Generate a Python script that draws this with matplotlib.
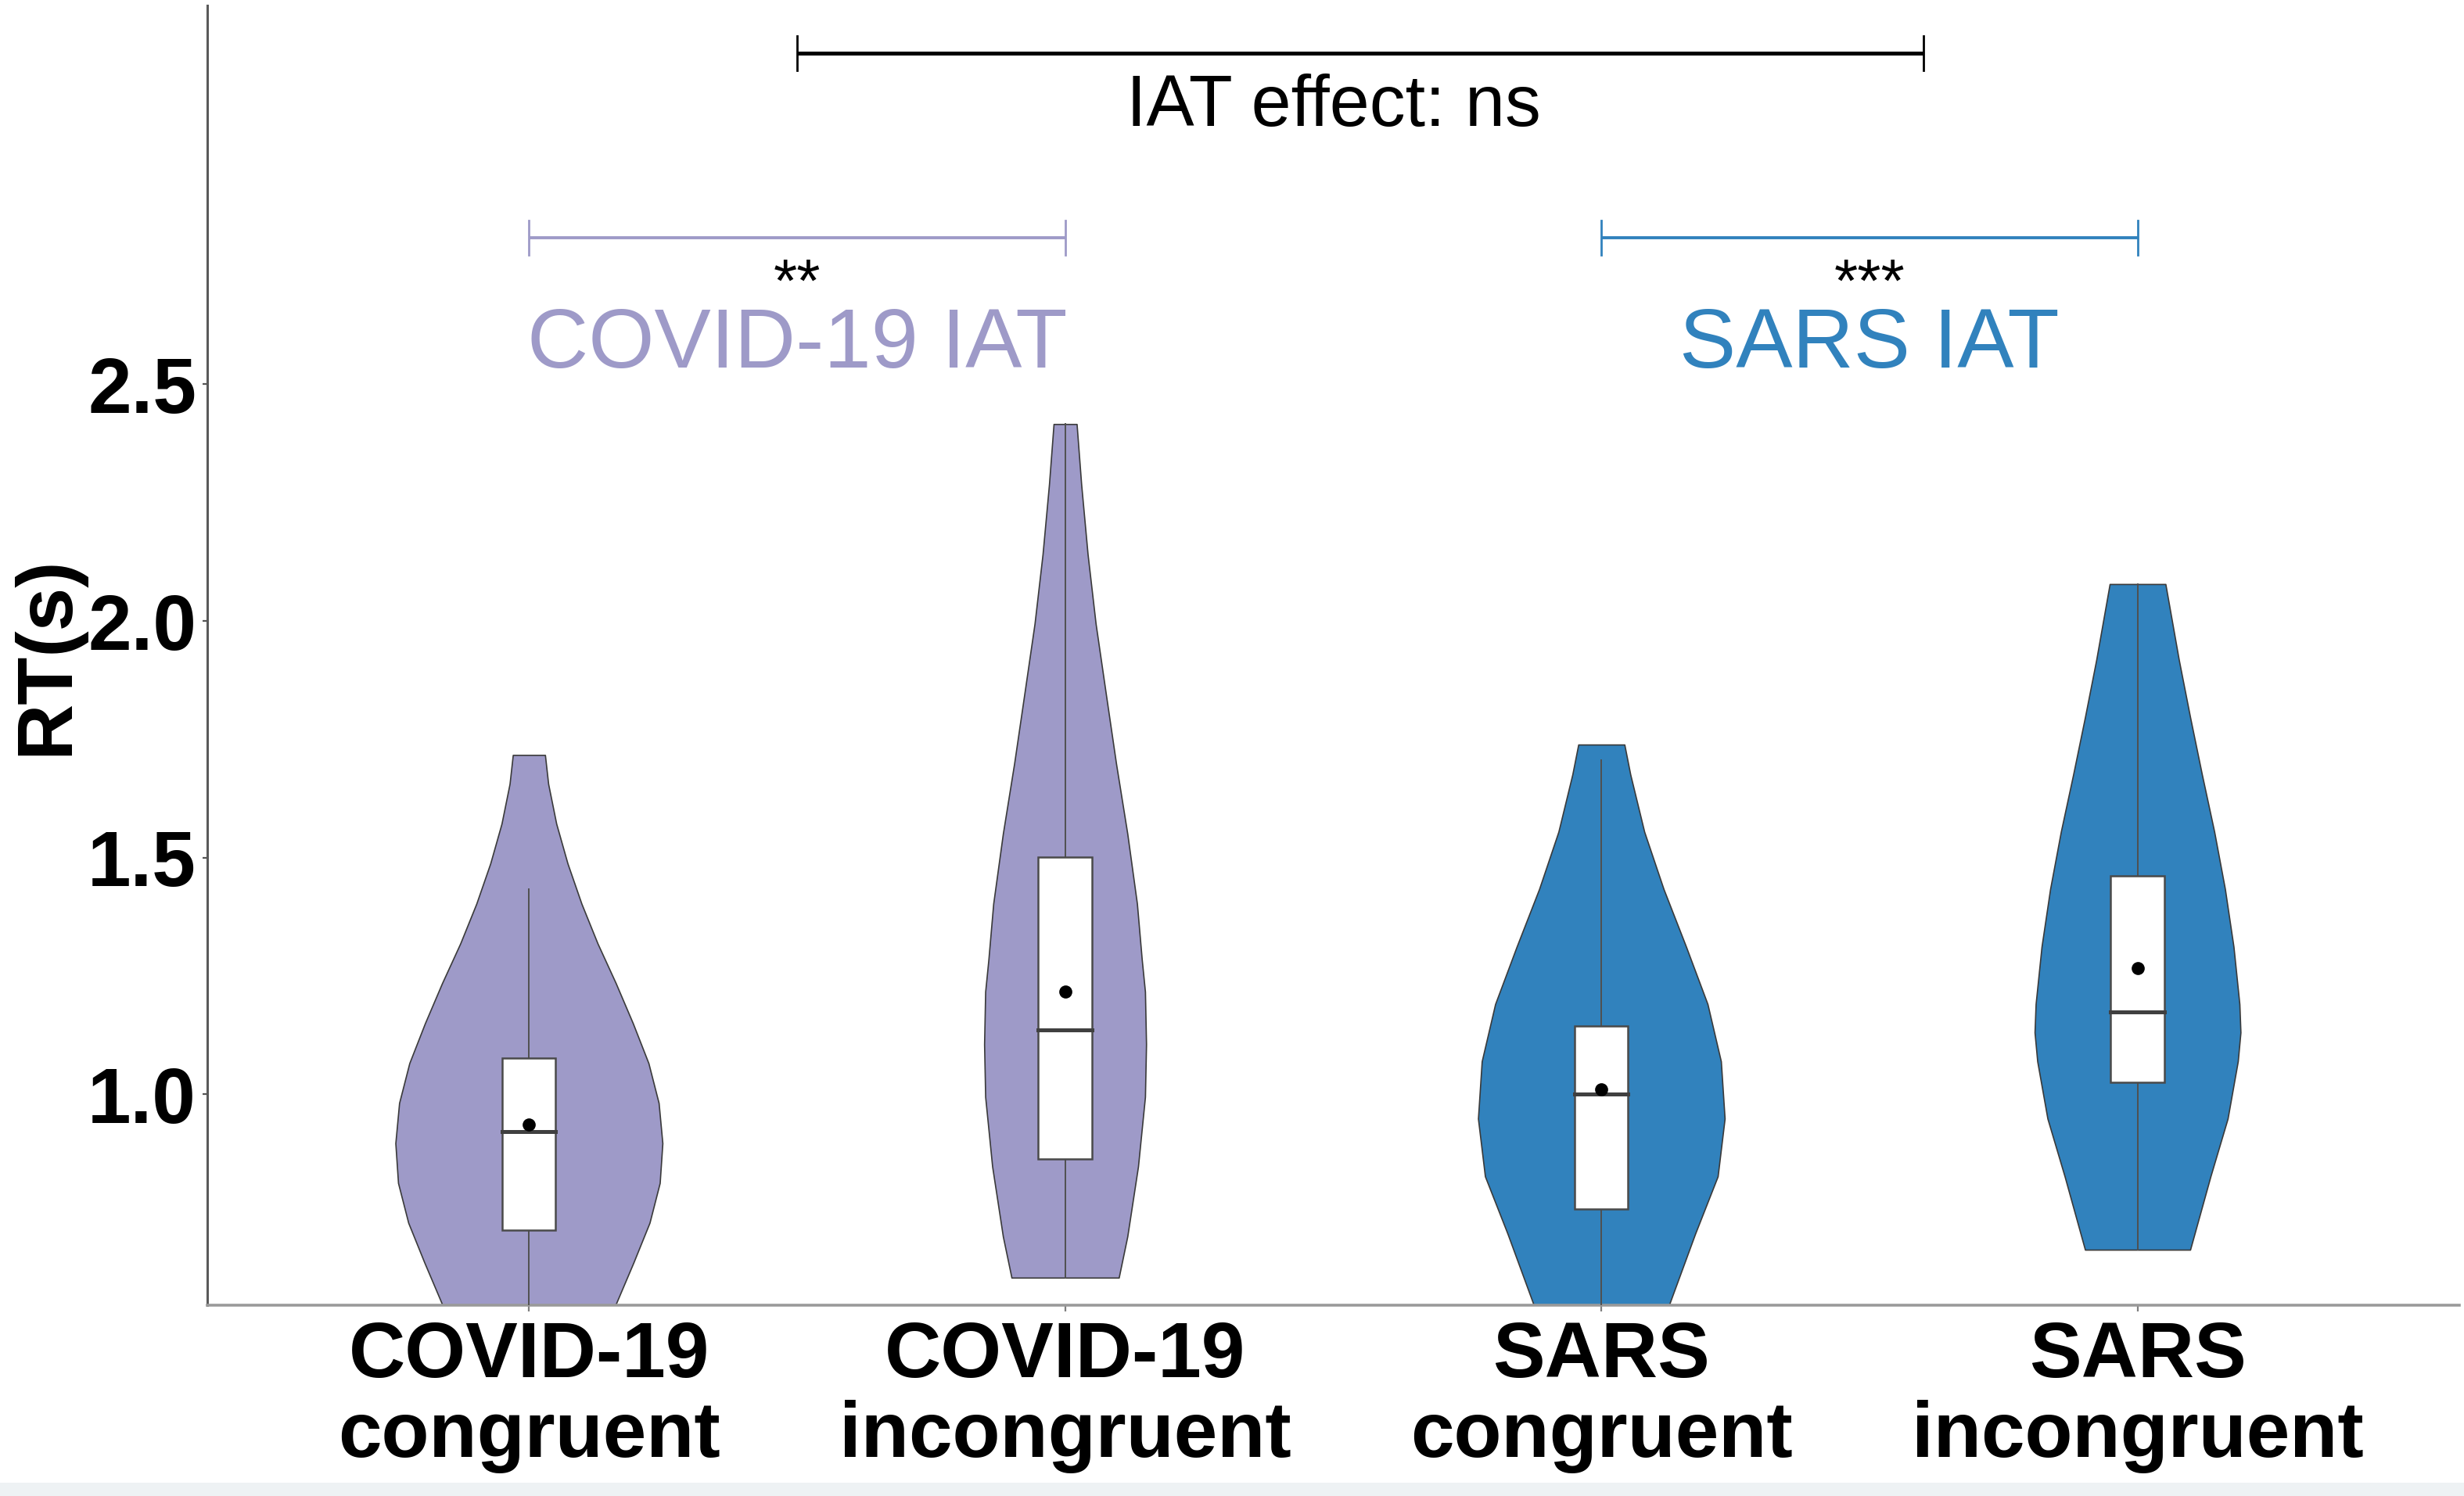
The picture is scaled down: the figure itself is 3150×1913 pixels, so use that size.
import matplotlib
matplotlib.use('Agg')
import matplotlib.pyplot as plt
from matplotlib.patches import Rectangle

plt.rcParams['font.family'] = ['Liberation Sans', 'DejaVu Sans']

# group names and colours
categories = ['COVID-19\ncongruent', 'COVID-19\nincongruent', 'SARS\ncongruent', 'SARS\nincongruent']
purple = '#9E9AC8'
blue = '#3182BD'
fill_colors = [purple, purple, blue, blue]

# violin outlines: RT levels and half widths (x units)
v1_y = [1.717, 1.656, 1.572, 1.488, 1.403, 1.319, 1.235, 1.150, 1.066, 0.982, 0.897, 0.813, 0.729, 0.645, 0.557, 0.50]
v1_w = [0.030, 0.036, 0.051, 0.072, 0.098, 0.128, 0.162, 0.194, 0.223, 0.242, 0.249, 0.244, 0.225, 0.195, 0.162, 0.14]

v2_y = [2.416, 2.289, 2.141, 1.994, 1.846, 1.699, 1.551, 1.403, 1.285, 1.217, 1.106, 0.995, 0.848, 0.700, 0.613]
v2_w = [0.0215, 0.030, 0.042, 0.057, 0.076, 0.095, 0.116, 0.134, 0.143, 0.149, 0.151, 0.149, 0.136, 0.116, 0.100]

v3_y = [1.739, 1.676, 1.555, 1.434, 1.312, 1.191, 1.070, 0.949, 0.827, 0.706, 0.561, 0.50]
v3_w = [0.043, 0.054, 0.080, 0.116, 0.158, 0.198, 0.223, 0.230, 0.217, 0.175, 0.128, 0.11]

v4_y = [2.078, 1.918, 1.797, 1.676, 1.555, 1.434, 1.312, 1.191, 1.131, 1.070, 0.949, 0.827, 0.672]
v4_w = [0.052, 0.077, 0.098, 0.120, 0.143, 0.163, 0.179, 0.190, 0.192, 0.187, 0.168, 0.136, 0.098]

violin_y = [v1_y, v2_y, v3_y, v4_y]
violin_w = [v1_w, v2_w, v3_w, v4_w]

# box plot stats
q1 = [0.713, 0.863, 0.758, 1.025]
median = [0.921, 1.137, 1.000, 1.175]
q3 = [1.077, 1.502, 1.145, 1.461]
mean = [0.936, 1.217, 1.011, 1.266]
whisk_lo = [0.50, 0.613, 0.50, 0.672]
whisk_hi = [1.433, 2.416, 1.706, 2.078]

fig = plt.figure(figsize=(15.75, 9.565), dpi=200)
ax = fig.add_axes([0.0841, 0.1276, 0.914, 0.8687])

box_w = 0.1
for i in range(4):
    x = i + 1
    ys = violin_y[i]
    lo = [x - w for w in violin_w[i]]
    hi = [x + w for w in violin_w[i]]
    ax.fill_betweenx(ys, lo, hi, facecolor=fill_colors[i], edgecolor='#3a3a3a', linewidth=0.6, zorder=2)
    ax.plot([x, x], [whisk_lo[i], whisk_hi[i]], color='#505050', linewidth=0.7, zorder=3)
    ax.add_patch(Rectangle((x - box_w / 2, q1[i]), box_w, q3[i] - q1[i],
                           facecolor='white', edgecolor='#4a4a4a', linewidth=0.9, zorder=4))
    ax.plot([x - box_w / 2, x + box_w / 2], [median[i], median[i]], color='#404040', linewidth=1.8, zorder=5)
    ax.plot(x, mean[i], marker='o', markersize=5, color='black', zorder=6)

# significance brackets
def bracket(x0, x1, y, color, lw):
    ax.plot([x0, x1], [y, y], color=color, linewidth=lw, solid_capstyle='butt', zorder=3)
    for xe in (x0, x1):
        ax.plot([xe, xe], [y - 0.036, y + 0.036], color=color, linewidth=1.0, zorder=3)

bracket(1.5, 3.6, 3.199, 'black', 1.8)
ax.text(2.5, 3.045, 'IAT effect: ns', ha='center', va='baseline', fontsize=33, color='black')

bracket(1, 2, 2.81, purple, 1.4)
ax.text(1.5, 2.675, '**', ha='center', va='baseline', fontsize=28, color='black')
ax.text(1.5, 2.535, 'COVID-19 IAT', ha='center', va='baseline', fontsize=39, color=purple)

bracket(3, 4, 2.81, blue, 1.4)
ax.text(3.5, 2.675, '***', ha='center', va='baseline', fontsize=28, color='black')
ax.text(3.5, 2.535, 'SARS IAT', ha='center', va='baseline', fontsize=39, color=blue)

ax.set_xlim(0.4, 4.6)
ax.set_ylim(0.555, 3.30)
ax.set_xticks([1, 2, 3, 4])
ax.set_xticklabels(categories, fontsize=36, fontweight='bold', linespacing=1.1)
ax.set_yticks([1.0, 1.5, 2.0, 2.5])
ax.set_yticklabels(['1.0', '1.5', '2.0', '2.5'], fontsize=36, fontweight='bold')
ax.tick_params(axis='x', length=3, width=0.8, color='#7f7f7f', pad=4)
ax.tick_params(axis='y', length=2, width=0.8, color='#555555', pad=3)

for side in ('top', 'right'):
    ax.spines[side].set_visible(False)
ax.spines['left'].set_color('#5a5a5a')
ax.spines['left'].set_linewidth(1.1)
ax.spines['bottom'].set_color('#9a9a9a')
ax.spines['bottom'].set_linewidth(1.3)

fig.text(0.019, 0.562, 'RT(s)', rotation=90, ha='center', va='center', fontsize=36, fontweight='bold')

fig.patches.append(Rectangle((0, 0), 1, 17 / 1913, transform=fig.transFigure,
                             facecolor='#eef2f4', edgecolor='none', zorder=0))

fig.savefig('out.png', dpi=200)
